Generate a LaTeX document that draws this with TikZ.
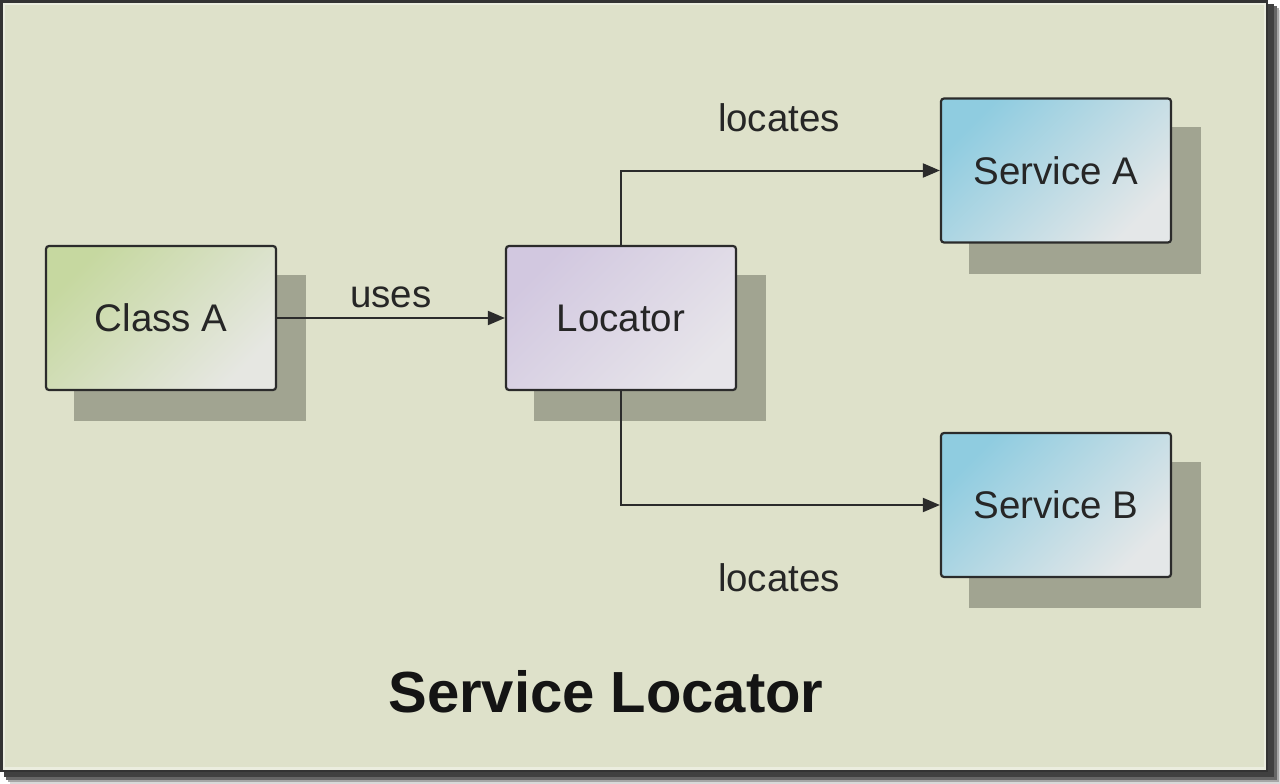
\documentclass[tikz,border=0pt]{standalone}
\usepackage{fontspec}
\setmainfont{Liberation Sans}
\usetikzlibrary{arrows.meta,calc,backgrounds}
\definecolor{panel}{HTML}{DEE1CA}
\definecolor{shadowc}{HTML}{A1A491}
\definecolor{edge}{HTML}{2B2B2B}
\definecolor{greenA}{HTML}{C6D8A0}
\definecolor{greenB}{HTML}{E6E7E2}
\definecolor{purpA}{HTML}{D2C8E0}
\definecolor{purpB}{HTML}{E7E5EA}
\definecolor{blueA}{HTML}{8FCCE0}
\definecolor{blueB}{HTML}{E4E7E8}
\tikzset{
  box/.style={draw=edge, line width=2.2pt, rounded corners=3pt,
    minimum width=230pt, minimum height=144pt, inner sep=0pt,
    font=\fontsize{38.5}{46}\selectfont, text=black!85},
  greenbox/.style={box, top color=greenA, bottom color=greenB, shading angle=45},
  purpbox/.style={box, top color=purpA, bottom color=purpB, shading angle=45},
  bluebox/.style={box, top color=blueA, bottom color=blueB, shading angle=45},
  shadowbox/.style={fill=shadowc},
  conn/.style={draw=edge, line width=2pt, -{Triangle[length=17pt,width=14pt]}},
  lab/.style={font=\fontsize{38.5}{46}\selectfont, text=black!85, inner sep=0pt},
}
\begin{document}
\begin{tikzpicture}[x=1pt,y=-1pt]
\useasboundingbox (0,0) rectangle (1280,784);
% nodes
\node[greenbox] (classA) at (161,318) {Class A};
\node[purpbox] (locator) at (621,318) {Locator};
\node[bluebox] (serviceA) at (1056,170.5) {Service A};
\node[bluebox] (serviceB) at (1056,505) {Service B};
\begin{scope}[on background layer]
\fill[white] (0,0) rectangle (1280,784);
% frame shadow
\fill[black!15] (10,10) rectangle (1280,784);
\fill[black!35] (8,8) rectangle (1279,782);
\fill[black!60] (6,6) rectangle (1277,780);
\fill[black!75] (4,4) rectangle (1274,777);
% panel
\fill[black!80] (0,0) rectangle (1268,772);
\fill[panel!60!white] (3,3) rectangle (1266,770);
\fill[panel] (5,5) rectangle (1264,767);
% box shadows
\foreach \n in {classA,locator,serviceA,serviceB}
  \fill[shadowbox] ($(\n.north west)+(29,30)$) rectangle ($(\n.south east)+(29,30)$);
\end{scope}
% connectors
\draw[conn] (classA.east) -- (locator.west);
\draw[conn] (locator.north) |- (serviceA.west);
\draw[conn] (locator.south) |- (serviceB.west);
% labels
\node[lab] (uses) at (391,297) {uses};
\node[lab] (locA) at (779,118) {locates};
\node[lab] (locB) at (779,578) {locates};
\node[font=\bfseries\fontsize{58}{66}\selectfont, text=black!92, inner sep=0pt] (title) at (606,692) {Service Locator};
\end{tikzpicture}
\end{document}
